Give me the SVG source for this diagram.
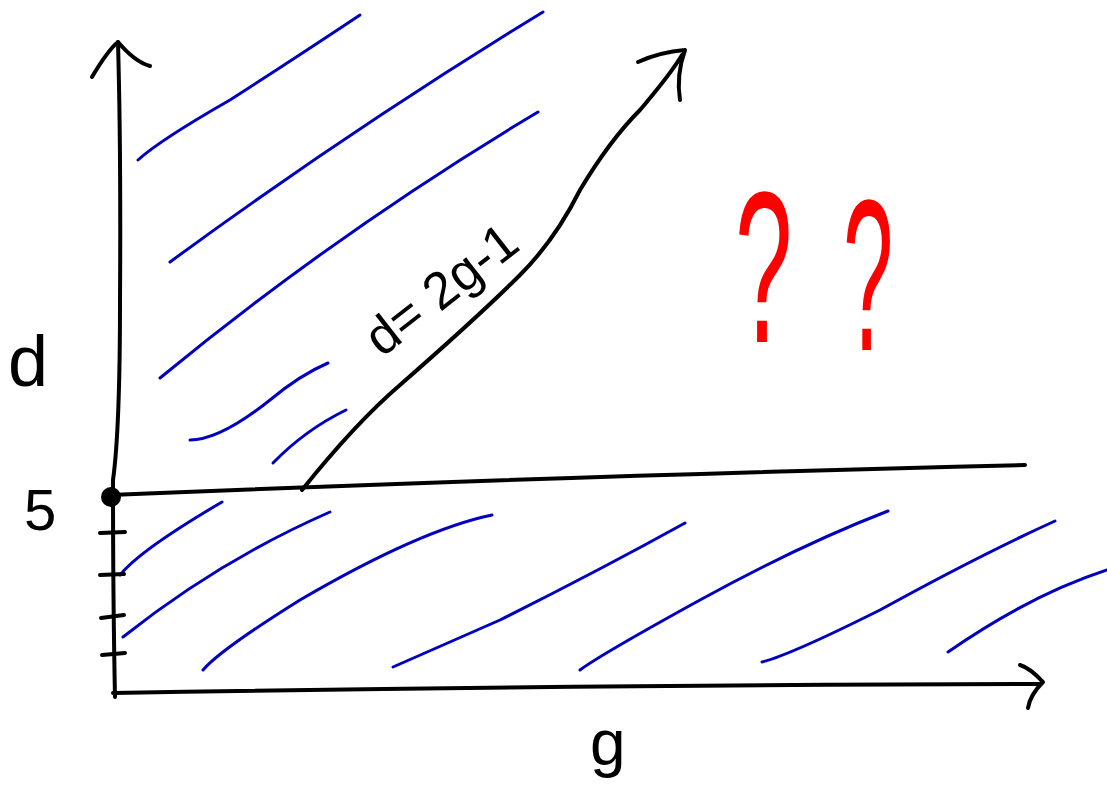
<svg xmlns="http://www.w3.org/2000/svg" width="1107" height="791" viewBox="0 0 1107 791">
<style>
.k{fill:none;stroke:#000;stroke-width:4;stroke-linecap:round;stroke-linejoin:round}
.b{fill:none;stroke:#0000c0;stroke-width:3;stroke-linecap:round}
.t{font-family:"Liberation Sans",Arial,sans-serif;fill:#000}
.q{font-family:"Liberation Sans",Arial,sans-serif;fill:#ff0000}
</style>
<rect width="1107" height="791" fill="#fff"/>
<g id="hatching">
<path class="b" d="M138,160 Q160,140 230,100 Q300,55 360,15"/>
<path class="b" d="M170,262 Q350,130 543,12"/>
<path class="b" d="M160,378 Q340,230 538,112"/>
<path class="b" d="M190,440 Q220,440 270,400 Q300,375 328,363"/>
<path class="b" d="M273,463 Q305,430 346,410"/>
<path class="b" d="M120,575 Q140,550 222,502"/>
<path class="b" d="M123,637 Q220,560 330,512"/>
<path class="b" d="M203,670 Q220,650 300,600 Q420,530 492,515"/>
<path class="b" d="M393,667 Q420,655 500,620 Q600,570 685,523"/>
<path class="b" d="M580,670 Q600,655 700,600 Q800,545 888,511"/>
<path class="b" d="M762,662 Q790,655 880,610 Q980,555 1055,521"/>
<path class="b" d="M948,652 Q1030,595 1107,570"/>
</g>
<g id="connectors">
<path id="y-axis" class="k" d="M118,42 Q121,150 120,300 Q120,430 113,480 Q113,600 115,697"/>
<path class="k" d="M92,77 Q108,50 118,42 Q135,62 150,66"/>
<path id="x-axis" class="k" d="M113,693 Q600,685 1040,684"/>
<path class="k" d="M1020,665 Q1030,668 1043,682 Q1030,695 1028,708"/>
<path id="d5-line" class="k" d="M110,495 Q600,475 1025,465"/>
<path id="diag-line" class="k" d="M302,490 C330,455 365,415 400,385 C440,350 490,305 520,275 C545,250 565,220 580,190 C595,165 615,135 640,110 C655,92 670,75 682,55"/>
<path class="k" d="M638,62 Q660,52 685,50 Q676,75 680,100"/>
<path class="k" d="M100,533 L125,532 M100,575 L124,574 M101,618 L124,615 M102,655 L125,653"/>
</g>
<g id="point5">
<circle cx="111" cy="497" r="10" fill="#000"/>
</g>
<g id="labels">
<text class="t" x="8" y="386" font-size="72">d</text>
<text class="t" x="24" y="530" font-size="58">5</text>
<text class="t" x="590" y="765" font-size="64">g</text>
<text class="t" font-size="52" transform="translate(382,358) rotate(-38)">d= 2g-1</text>
<text class="q" font-size="215" transform="translate(735,342) scale(0.48,1)">?</text>
<text class="q" font-size="215" transform="translate(843,350) scale(0.42,1)">?</text>
</g>
</svg>
